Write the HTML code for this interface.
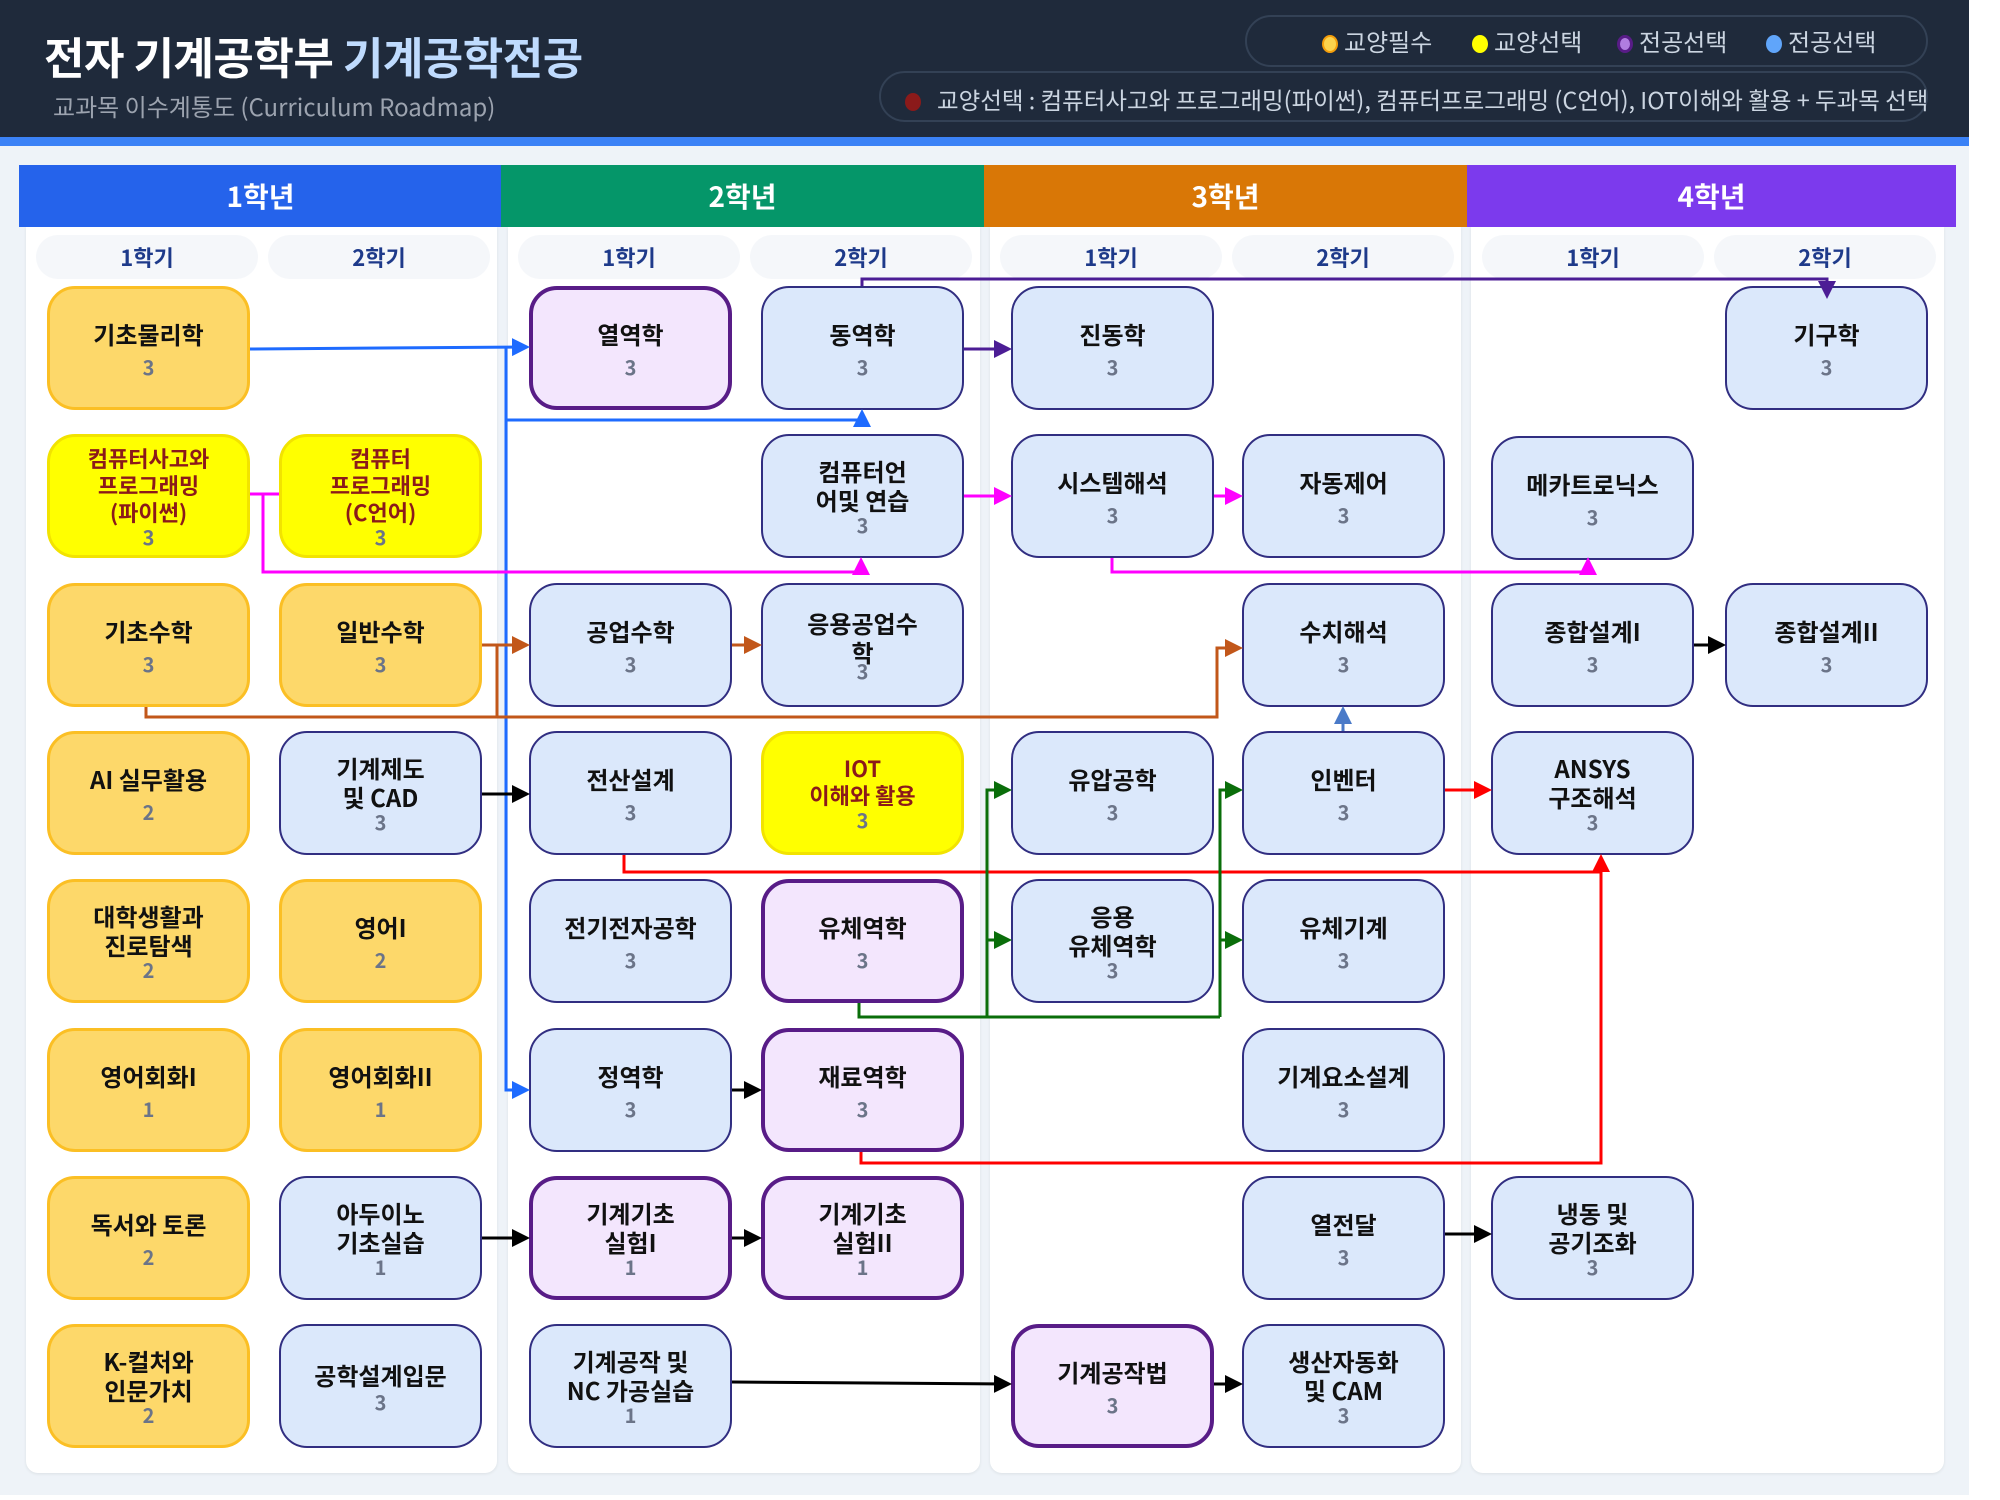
<!DOCTYPE html>
<html><head><meta charset="utf-8"><style>
*{margin:0;padding:0;box-sizing:border-box}
body{width:2000px;height:1500px;background:#fff;position:relative;overflow:hidden;font-family:"Liberation Sans","Noto Sans CJK KR",sans-serif}
.hdr{position:absolute;left:0;top:0;width:1969px;height:137px;background:#1f2a3b}
.bar{position:absolute;left:0;top:137px;width:1969px;height:9px;background:#3b82f6}
.bg{position:absolute;left:0;top:146px;width:1969px;height:1349px;background:#eef3f8}
.title{position:absolute;left:44px;top:23px;font-size:44px;font-weight:bold;color:#fff;font-family:"Noto Sans CJK KR",sans-serif;letter-spacing:-0.5px}
.title span{color:#bfdbfe}
.sub{position:absolute;left:53px;top:88px;font-size:24px;color:#9ca3af;font-family:"Noto Sans CJK KR",sans-serif}
.pill{position:absolute;border:2px solid #334155;border-radius:30px;background:#1f2a3b}
.leg{position:absolute;top:23px;font-size:24px;color:#cbd5e1;font-family:"Noto Sans CJK KR",sans-serif;white-space:nowrap}
.dot{display:inline-block;width:16px;height:18px;border-radius:50%;vertical-align:-2px;margin-right:6px}
.panel{position:absolute;top:227px;height:1246px;background:#fff;border-radius:0 0 12px 12px;box-shadow:0 1px 3px rgba(0,0,0,0.08)}
.yr{position:absolute;top:165px;height:62px;width:483px;color:#fff;font-weight:bold;font-size:28px;text-align:center;line-height:62px;font-family:"Noto Sans CJK KR",sans-serif}
.sem{position:absolute;top:235px;height:44px;width:222px;background:#f5f7fa;border-radius:22px;color:#1e3a8a;font-weight:bold;font-size:22px;text-align:center;line-height:44px;font-family:"Noto Sans CJK KR",sans-serif}
.n{position:absolute;width:203px;height:124px;border-radius:28px;display:flex;flex-direction:column;align-items:center;justify-content:center;text-align:center;font-family:"Noto Sans CJK KR",sans-serif}
.n b{font-size:24px;line-height:29px;color:#111;font-weight:bold}
.n i{font-style:normal;font-size:20px;line-height:22px;color:#6b7488;font-weight:bold;margin-top:8px}
.o{background:#fdd86a;border:3px solid #fbbf24}
.y{background:#ffff00;border:3px solid #f2e300}
.y b{color:#8b1a1a;font-size:22px;line-height:27px}
.bl{background:#dbe8fb;border:2.5px solid #312e81}
.p{background:#f3e6fd;border:4.5px solid #581c87}
</style></head><body>
<div class="hdr"></div><div class="bar"></div><div class="bg"></div>
<div class="title">전자 기계공학부 <span>기계공학전공</span></div>
<div class="sub">교과목 이수계통도 (Curriculum Roadmap)</div>
<div class="pill" style="left:1245px;top:15px;width:683px;height:52px"></div>
<div class="leg" style="left:1322px"><span class="dot" style="background:#fcd34d;border:2px solid #f59e0b"></span>교양필수</div>
<div class="leg" style="left:1472px"><span class="dot" style="background:#ffff00"></span>교양선택</div>
<div class="leg" style="left:1617px"><span class="dot" style="background:#b07de0;border:3px solid #581c87"></span>전공선택</div>
<div class="leg" style="left:1766px"><span class="dot" style="background:#60a5fa"></span>전공선택</div>
<div class="pill" style="left:879px;top:71px;width:1049px;height:51px"></div>
<div class="leg" style="left:905px;top:82px;font-size:23.5px"><span class="dot" style="background:#8b1a1a;margin-right:16px"></span>교양선택 : 컴퓨터사고와 프로그래밍(파이썬), 컴퓨터프로그래밍 (C언어), IOT이해와 활용 + 두과목 선택</div>

<div class="panel" style="left:26px;width:471px"></div>
<div class="panel" style="left:508px;width:472px"></div>
<div class="panel" style="left:990px;width:471px"></div>
<div class="panel" style="left:1471px;width:473px"></div>
<div class="yr" style="left:19px;background:#2563eb">1학년</div>
<div class="yr" style="left:501px;background:#059669">2학년</div>
<div class="yr" style="left:984px;background:#d97706">3학년</div>
<div class="yr" style="left:1467px;width:489px;background:#7c3aed">4학년</div>
<div class="sem" style="left:36px">1학기</div><div class="sem" style="left:268px">2학기</div>
<div class="sem" style="left:518px">1학기</div><div class="sem" style="left:750px">2학기</div>
<div class="sem" style="left:1000px">1학기</div><div class="sem" style="left:1232px">2학기</div>
<div class="sem" style="left:1482px">1학기</div><div class="sem" style="left:1714px">2학기</div>

<!-- col1 -->
<div class="n o" style="left:47px;top:286px"><b>기초물리학</b><i>3</i></div>
<div class="n y" style="left:47px;top:434px"><b>컴퓨터사고와<br>프로그래밍<br>(파이썬)</b><i style="margin-top:0">3</i></div>
<div class="n o" style="left:47px;top:583px"><b>기초수학</b><i>3</i></div>
<div class="n o" style="left:47px;top:731px"><b>AI 실무활용</b><i>2</i></div>
<div class="n o" style="left:47px;top:879px"><b>대학생활과<br>진로탐색</b><i style="margin-top:0">2</i></div>
<div class="n o" style="left:47px;top:1028px"><b>영어회화I</b><i>1</i></div>
<div class="n o" style="left:47px;top:1176px"><b>독서와 토론</b><i>2</i></div>
<div class="n o" style="left:47px;top:1324px"><b>K-컬처와<br>인문가치</b><i style="margin-top:0">2</i></div>
<!-- col2 -->
<div class="n y" style="left:279px;top:434px"><b>컴퓨터<br>프로그래밍<br>(C언어)</b><i style="margin-top:0">3</i></div>
<div class="n o" style="left:279px;top:583px"><b>일반수학</b><i>3</i></div>
<div class="n bl" style="left:279px;top:731px"><b>기계제도<br>및 CAD</b><i style="margin-top:0">3</i></div>
<div class="n o" style="left:279px;top:879px"><b>영어I</b><i>2</i></div>
<div class="n o" style="left:279px;top:1028px"><b>영어회화II</b><i>1</i></div>
<div class="n bl" style="left:279px;top:1176px"><b>아두이노<br>기초실습</b><i style="margin-top:0">1</i></div>
<div class="n bl" style="left:279px;top:1324px"><b>공학설계입문</b><i style="margin-top:2px">3</i></div>
<!-- col3 -->
<div class="n p" style="left:529px;top:286px"><b>열역학</b><i>3</i></div>
<div class="n bl" style="left:529px;top:583px"><b>공업수학</b><i>3</i></div>
<div class="n bl" style="left:529px;top:731px"><b>전산설계</b><i>3</i></div>
<div class="n bl" style="left:529px;top:879px"><b>전기전자공학</b><i>3</i></div>
<div class="n bl" style="left:529px;top:1028px"><b>정역학</b><i>3</i></div>
<div class="n p" style="left:529px;top:1176px"><b>기계기초<br>실험I</b><i style="margin-top:0">1</i></div>
<div class="n bl" style="left:529px;top:1324px"><b>기계공작 및<br>NC 가공실습</b><i style="margin-top:0">1</i></div>
<!-- col4 -->
<div class="n bl" style="left:761px;top:286px"><b>동역학</b><i>3</i></div>
<div class="n bl" style="left:761px;top:434px"><b>컴퓨터언<br>어및 연습</b><i style="margin-top:0">3</i></div>
<div class="n bl" style="left:761px;top:583px"><b>응용공업수<br>학</b><i style="margin-top:-6px">3</i></div>
<div class="n y" style="left:761px;top:731px"><b>IOT<br>이해와 활용</b><i style="margin-top:0">3</i></div>
<div class="n p" style="left:761px;top:879px"><b>유체역학</b><i>3</i></div>
<div class="n p" style="left:761px;top:1028px"><b>재료역학</b><i>3</i></div>
<div class="n p" style="left:761px;top:1176px"><b>기계기초<br>실험II</b><i style="margin-top:0">1</i></div>
<!-- col5 -->
<div class="n bl" style="left:1011px;top:286px"><b>진동학</b><i>3</i></div>
<div class="n bl" style="left:1011px;top:434px"><b>시스템해석</b><i>3</i></div>
<div class="n bl" style="left:1011px;top:731px"><b>유압공학</b><i>3</i></div>
<div class="n bl" style="left:1011px;top:879px"><b>응용<br>유체역학</b><i style="margin-top:0">3</i></div>
<div class="n p" style="left:1011px;top:1324px"><b>기계공작법</b><i>3</i></div>
<!-- col6 -->
<div class="n bl" style="left:1242px;top:434px"><b>자동제어</b><i>3</i></div>
<div class="n bl" style="left:1242px;top:583px"><b>수치해석</b><i>3</i></div>
<div class="n bl" style="left:1242px;top:731px"><b>인벤터</b><i>3</i></div>
<div class="n bl" style="left:1242px;top:879px"><b>유체기계</b><i>3</i></div>
<div class="n bl" style="left:1242px;top:1028px"><b>기계요소설계</b><i>3</i></div>
<div class="n bl" style="left:1242px;top:1176px"><b>열전달</b><i>3</i></div>
<div class="n bl" style="left:1242px;top:1324px"><b>생산자동화<br>및 CAM</b><i style="margin-top:0">3</i></div>
<!-- col7 -->
<div class="n bl" style="left:1491px;top:436px"><b>메카트로닉스</b><i>3</i></div>
<div class="n bl" style="left:1491px;top:583px"><b>종합설계I</b><i>3</i></div>
<div class="n bl" style="left:1491px;top:731px"><b>ANSYS<br>구조해석</b><i style="margin-top:0">3</i></div>
<div class="n bl" style="left:1491px;top:1176px"><b>냉동 및<br>공기조화</b><i style="margin-top:0">3</i></div>
<!-- col8 -->
<div class="n bl" style="left:1725px;top:286px"><b>기구학</b><i>3</i></div>
<div class="n bl" style="left:1725px;top:583px"><b>종합설계II</b><i>3</i></div>

<svg width="2000" height="1500" style="position:absolute;left:0;top:0" fill="none" stroke-width="3">
<defs>
<marker id="mb" markerWidth="6" markerHeight="6" refX="5" refY="3" orient="auto" markerUnits="strokeWidth"><path d="M0,0L6,3L0,6z" fill="#1e6bff" stroke="none"/></marker>
<marker id="mp" markerWidth="6" markerHeight="6" refX="5" refY="3" orient="auto" markerUnits="strokeWidth"><path d="M0,0L6,3L0,6z" fill="#4c1d95" stroke="none"/></marker>
<marker id="mm" markerWidth="6" markerHeight="6" refX="5" refY="3" orient="auto" markerUnits="strokeWidth"><path d="M0,0L6,3L0,6z" fill="#ff00ff" stroke="none"/></marker>
<marker id="mo" markerWidth="6" markerHeight="6" refX="5" refY="3" orient="auto" markerUnits="strokeWidth"><path d="M0,0L6,3L0,6z" fill="#c2571a" stroke="none"/></marker>
<marker id="mk" markerWidth="6" markerHeight="6" refX="5" refY="3" orient="auto" markerUnits="strokeWidth"><path d="M0,0L6,3L0,6z" fill="#000" stroke="none"/></marker>
<marker id="mr" markerWidth="6" markerHeight="6" refX="5" refY="3" orient="auto" markerUnits="strokeWidth"><path d="M0,0L6,3L0,6z" fill="#ff0000" stroke="none"/></marker>
<marker id="mg" markerWidth="6" markerHeight="6" refX="5" refY="3" orient="auto" markerUnits="strokeWidth"><path d="M0,0L6,3L0,6z" fill="#0a6e0a" stroke="none"/></marker>
<marker id="ms" markerWidth="6" markerHeight="6" refX="5" refY="3" orient="auto" markerUnits="strokeWidth"><path d="M0,0L6,3L0,6z" fill="#4a7ac8" stroke="none"/></marker>
</defs>
<g stroke="#1e6bff">
<path d="M250,349L527,347" marker-end="url(#mb)"/>
<path d="M506,347L506,1090L527,1090" marker-end="url(#mb)"/>
<path d="M506,420L862,420L862,412" marker-end="url(#mb)"/>
</g>
<g stroke="#4c1d95">
<path d="M964,349L1009,349" marker-end="url(#mp)"/>
<path d="M862,286L862,279L1827,279L1827,296" marker-end="url(#mp)"/>
</g>
<g stroke="#ff00ff">
<path d="M250,494L279,494"/>
<path d="M263,494L263,572L861,572L861,560" marker-end="url(#mm)"/>
<path d="M964,496L1009,496" marker-end="url(#mm)"/>
<path d="M1214,496L1240,496" marker-end="url(#mm)"/>
<path d="M1112,558L1112,572L1588,572L1588,560" marker-end="url(#mm)"/>
</g>
<g stroke="#c2571a">
<path d="M482,645L527,645" marker-end="url(#mo)"/>
<path d="M497,645L497,717"/>
<path d="M146,707L146,717L1217,717L1217,648L1240,648" marker-end="url(#mo)"/>
<path d="M732,645L759,645" marker-end="url(#mo)"/>
</g>
<g stroke="#000">
<path d="M482,794L527,794" marker-end="url(#mk)"/>
<path d="M1694,645L1723,645" marker-end="url(#mk)"/>
<path d="M732,1090L759,1090" marker-end="url(#mk)"/>
<path d="M482,1238L527,1238" marker-end="url(#mk)"/>
<path d="M732,1238L759,1238" marker-end="url(#mk)"/>
<path d="M732,1382L1009,1384" marker-end="url(#mk)"/>
<path d="M1214,1384L1240,1384" marker-end="url(#mk)"/>
<path d="M1445,1234L1489,1234" marker-end="url(#mk)"/>
</g>
<g stroke="#ff0000">
<path d="M624,855L624,872L1601,872L1601,857" marker-end="url(#mr)"/>
<path d="M861,1152L861,1163L1601,1163L1601,872"/>
<path d="M1445,790L1489,790" marker-end="url(#mr)"/>
</g>
<g stroke="#0a6e0a">
<path d="M859,1003L859,1017L1220,1017"/>
<path d="M987,1017L987,790L1009,790" marker-end="url(#mg)"/>
<path d="M987,940L1009,940" marker-end="url(#mg)"/>
<path d="M1220,1017L1220,790L1240,790" marker-end="url(#mg)"/>
<path d="M1220,940L1240,940" marker-end="url(#mg)"/>
</g>
<path d="M1343,731L1343,709" stroke="#4a7ac8" marker-end="url(#ms)"/>
</svg>
</body></html>
